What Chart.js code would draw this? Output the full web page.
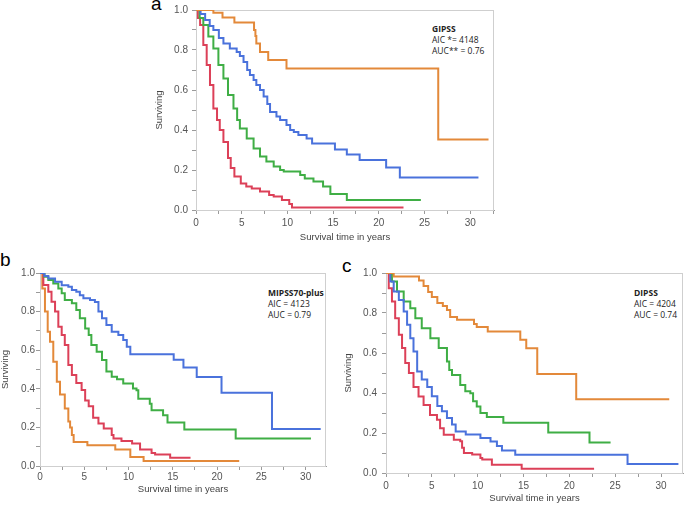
<!DOCTYPE html>
<html>
<head>
<meta charset="utf-8">
<script src="https://cdn.jsdelivr.net/npm/chart.js@4.4.1/dist/chart.umd.min.js"></script>
<style>
  body { margin: 0; background: #fff; }
  #page { position: relative; width: 685px; height: 506px; overflow: hidden; background: #fff; font-family: 'Open Sans', sans-serif; }
  .panel { position: absolute; }
  .tag { position: absolute; font-family: 'Liberation Sans', Arial, sans-serif; font-size: 19px; line-height: 1; color: #000; }
  .note { position: absolute; font-size: 8.5px; line-height: 11px; color: #222; white-space: nowrap; }
  .note b { font-weight: 700; }
</style>
</head>
<body>
<div id="page">
  <div class="tag" style="left:151px;top:-6px;">a</div>
  <div class="tag" style="left:0px;top:250px;">b</div>
  <div class="tag" style="left:342px;top:256px;">c</div>

  <div class="note" style="left:432px;top:23px;"><b>GIPSS</b><br>AIC *= 4148<br>AUC** = 0.76</div>
  <div class="note" style="left:268px;top:287px;"><b>MIPSS70-plus</b><br>AIC = 4123<br>AUC = 0.79</div>
  <div class="note" style="left:634px;top:287px;"><b>DIPSS</b><br>AIC = 4204<br>AUC = 0.74</div>

  <div class="panel" style="left:140px;top:0px;"><canvas id="chartA" width="358" height="248"></canvas></div>
  <div class="panel" style="left:0px;top:250px;"><canvas id="chartB" width="330" height="256"></canvas></div>
  <div class="panel" style="left:340px;top:250px;"><canvas id="chartC" width="345" height="256"></canvas></div>
</div>
<script>
// ---- panel a: GIPSS ----
const aOrangeT = [0, 1.9, 2.9, 4.2, 6.35, 6.5, 6.6, 7.0, 7.9, 9.9, 26.5, 32.0];
const aOrangeS = [1, 0.986, 0.963, 0.937, 0.90, 0.87, 0.833, 0.79, 0.75, 0.708, 0.353, 0.353];
const aBlueT = [0, 0.5, 1.0, 1.5, 1.9, 2.5, 3.0, 3.7, 4.45, 4.8, 5.2, 5.6, 5.9, 6.3, 6.6, 7.0, 7.4, 7.8, 8.1, 8.8, 9.2, 9.9, 10.3, 10.7, 11.2, 12.1, 12.7, 15.2, 16.5, 17.9, 20.8, 22.3, 30.9];
const aBlueS = [1, 0.98, 0.95, 0.92, 0.9, 0.86, 0.833, 0.808, 0.79, 0.77, 0.74, 0.70, 0.675, 0.65, 0.625, 0.6, 0.567, 0.53, 0.49, 0.467, 0.45, 0.425, 0.40, 0.39, 0.375, 0.358, 0.333, 0.303, 0.278, 0.25, 0.213, 0.162, 0.162];
const aGreenT = [0, 0.4, 0.8, 1.35, 1.9, 2.45, 3.0, 3.5, 4.1, 4.5, 4.8, 5.55, 6.3, 7.0, 7.7, 8.5, 9.2, 9.6, 11.4, 11.9, 12.85, 13.9, 14.7, 16.5, 24.6];
const aGreenS = [1, 0.96, 0.925, 0.867, 0.808, 0.725, 0.658, 0.575, 0.508, 0.45, 0.408, 0.358, 0.308, 0.267, 0.242, 0.217, 0.2, 0.192, 0.175, 0.158, 0.142, 0.117, 0.08, 0.05, 0.05];
const aRedT = [0, 0.2, 0.45, 0.8, 1.17, 1.53, 1.9, 2.3, 2.6, 3.0, 3.5, 3.8, 4.2, 4.9, 5.5, 6.1, 7.0, 8.0, 8.5, 9.4, 10.2, 10.5, 22.7];
const aRedS = [1, 0.96, 0.925, 0.825, 0.725, 0.625, 0.508, 0.45, 0.40, 0.34, 0.26, 0.21, 0.167, 0.133, 0.117, 0.108, 0.092, 0.075, 0.067, 0.05, 0.03, 0.013, 0.013];

// ---- panel b: MIPSS70-plus ----
const bBlueT = [0, 0.5, 0.94, 1.7, 2.45, 3.2, 3.6, 4.1, 4.5, 4.9, 5.65, 6.2, 6.6, 7.0, 7.5, 8.1, 8.85, 9.4, 9.8, 10.2, 15.1, 16.2, 17.7, 20.5, 26.2, 31.7];
const bBlueS = [1, 0.985, 0.972, 0.955, 0.937, 0.929, 0.912, 0.903, 0.885, 0.869, 0.86, 0.85, 0.8, 0.765, 0.73, 0.696, 0.679, 0.653, 0.618, 0.579, 0.551, 0.51, 0.461, 0.38, 0.192, 0.192];
const bGreenT = [0, 0.5, 0.94, 1.5, 2.07, 2.45, 2.8, 3.6, 4.1, 4.5, 5.1, 5.5, 5.8, 6.4, 7.0, 7.5, 8.1, 8.7, 9.4, 10.5, 10.9, 11.1, 12.4, 12.6, 13.9, 14.4, 16.3, 22.1, 30.6];
const bGreenS = [1, 0.98, 0.964, 0.946, 0.92, 0.895, 0.86, 0.843, 0.808, 0.765, 0.713, 0.679, 0.627, 0.592, 0.549, 0.49, 0.463, 0.45, 0.427, 0.401, 0.392, 0.349, 0.323, 0.289, 0.263, 0.225, 0.189, 0.142, 0.142];
const bRedT = [0, 0.38, 0.94, 1.3, 1.7, 2.07, 2.45, 2.8, 3.2, 3.6, 4.1, 4.7, 5.1, 5.5, 6.0, 6.6, 7.2, 8.1, 8.3, 9.2, 10.4, 11.3, 12.6, 13.0, 14.7, 17.0];
const bRedS = [1, 0.938, 0.903, 0.851, 0.8, 0.722, 0.679, 0.627, 0.523, 0.472, 0.43, 0.394, 0.34, 0.31, 0.25, 0.22, 0.194, 0.161, 0.142, 0.13, 0.117, 0.085, 0.067, 0.06, 0.043, 0.043];
const bOrangeT = [0, 0.26, 0.56, 0.87, 1.13, 1.5, 1.9, 2.26, 2.8, 3.2, 3.4, 3.6, 3.8, 5.35, 8.5, 10.2, 11.7, 22.5];
const bOrangeS = [1, 0.92, 0.8, 0.696, 0.644, 0.54, 0.437, 0.37, 0.298, 0.23, 0.2, 0.161, 0.124, 0.107, 0.085, 0.047, 0.026, 0.026];

// ---- panel c: DIPSS ----
const cOrangeT = [0, 0.84, 3.6, 4.1, 4.6, 5.0, 5.6, 6.2, 6.65, 7.0, 7.75, 9.6, 9.9, 11.1, 14.65, 15.3, 16.5, 20.75, 30.9];
const cOrangeS = [1, 0.982, 0.962, 0.935, 0.905, 0.88, 0.85, 0.835, 0.815, 0.78, 0.766, 0.745, 0.73, 0.707, 0.666, 0.624, 0.495, 0.369, 0.369];
const cBlueT = [0, 0.47, 0.84, 1.4, 1.93, 2.3, 2.65, 3.0, 3.4, 3.9, 4.5, 5.0, 5.6, 6.1, 6.65, 7.2, 7.6, 8.7, 10.3, 11.4, 12.1, 12.65, 14.1, 26.35, 31.9];
const cBlueS = [1, 0.957, 0.907, 0.865, 0.807, 0.741, 0.674, 0.608, 0.508, 0.467, 0.43, 0.384, 0.335, 0.309, 0.275, 0.243, 0.207, 0.192, 0.175, 0.158, 0.135, 0.113, 0.091, 0.045, 0.045];
const cGreenT = [0, 0.65, 1.2, 1.93, 2.65, 3.2, 3.9, 4.84, 5.75, 6.65, 6.9, 7.2, 8.1, 8.65, 9.2, 9.5, 9.9, 10.3, 11.0, 12.8, 17.7, 22.2, 24.5];
const cGreenS = [1, 0.957, 0.907, 0.857, 0.824, 0.774, 0.724, 0.674, 0.625, 0.558, 0.515, 0.49, 0.44, 0.409, 0.399, 0.359, 0.332, 0.3, 0.28, 0.251, 0.202, 0.153, 0.153];
const cRedT = [0, 0.3, 0.65, 1.0, 1.4, 1.75, 2.1, 2.5, 3.0, 3.55, 4.1, 4.8, 5.56, 5.9, 6.3, 7.4, 8.1, 8.3, 8.5, 9.4, 10.3, 10.5, 11.55, 14.8, 22.7];
const cRedS = [1, 0.924, 0.857, 0.774, 0.691, 0.625, 0.55, 0.5, 0.43, 0.382, 0.34, 0.29, 0.266, 0.224, 0.191, 0.166, 0.159, 0.126, 0.1, 0.093, 0.075, 0.068, 0.041, 0.021, 0.021];

const ORANGE = '#E3893A', BLUE = '#4A72DC', GREEN = '#3FAE45', RED = '#DC4058';

const toPoints = (t, s) => t.map((v, i) => ({ x: v, y: s[i] }));

// light grey frame round the plot area
const frame = {
  id: 'frame',
  beforeDatasetsDraw(chart) {
    const a = chart.chartArea, ctx = chart.ctx;
    ctx.save();
    ctx.strokeStyle = '#cfcfcf';
    ctx.lineWidth = 1;
    ctx.strokeRect(a.left + 0.5, a.top + 0.5, a.right - a.left - 1, a.bottom - a.top);
    ctx.restore();
  }
};

function makePanel(id, series, cfg) {
  new Chart(document.getElementById(id), {
    type: 'line',
    data: {
      datasets: series.map(s => ({
        data: toPoints(s[0], s[1]),
        borderColor: s[2],
        borderWidth: 2,
        stepped: 'before',   // horizontal first, then the drop (Kaplan-Meier)
        pointRadius: 0,
        fill: false
      }))
    },
    options: {
      responsive: false,
      animation: false,
      devicePixelRatio: 1,
      layout: { padding: { top: cfg.padTop, right: cfg.padRight, left: 0, bottom: 0 } },
      plugins: { legend: { display: false }, tooltip: { enabled: false } },
      scales: {
        x: {
          type: 'linear',
          min: 0,
          max: cfg.xMax,
          afterFit: s => { s.height = cfg.xHeight; },
          border: { color: '#9a9a9a' },
          grid: { drawOnChartArea: false, tickLength: 4, tickColor: '#9a9a9a' },
          ticks: {
            stepSize: 2.5,
            includeBounds: false,
            maxRotation: 0,
            autoSkip: false,
            padding: cfg.xTickPad,
            color: '#555',
            font: { size: 10 },
            callback: v => (Math.abs(v % 5) < 1e-6 ? String(v) : '')
          },
          title: {
            display: true,
            text: 'Survival time in years',
            color: '#444',
            font: { size: 9.5 },
            padding: { top: 0, bottom: cfg.xTitlePad }
          }
        },
        y: {
          min: 0,
          max: 1,
          afterFit: s => { s.width = cfg.yWidth; },
          border: { color: '#9a9a9a' },
          grid: { drawOnChartArea: false, tickLength: 4, tickColor: '#9a9a9a' },
          ticks: {
            stepSize: 0.1,
            autoSkip: false,
            padding: cfg.yTickPad,
            color: '#555',
            font: { size: 10 },
            callback: v => (Math.round(v * 10) % 2 === 0 ? v.toFixed(1) : '')
          },
          title: {
            display: true,
            text: 'Surviving',
            color: '#444',
            font: { size: 9.5 },
            padding: { top: cfg.yTitlePad, bottom: 0 }
          }
        }
      }
    },
    plugins: [frame]
  });
}

makePanel('chartA', [
  [aOrangeT, aOrangeS, ORANGE],
  [aBlueT, aBlueS, BLUE],
  [aGreenT, aGreenS, GREEN],
  [aRedT, aRedS, RED]
], { xMax: 32.6, padTop: 10, padRight: 4, yWidth: 56, xHeight: 38, xTickPad: 3, xTitlePad: 5, yTickPad: 4, yTitlePad: 14 });

makePanel('chartB', [
  [bBlueT, bBlueS, BLUE],
  [bGreenT, bGreenS, GREEN],
  [bRedT, bRedS, RED],
  [bOrangeT, bOrangeS, ORANGE]
], { xMax: 32.3, padTop: 23, padRight: 4, yWidth: 40, xHeight: 40, xTickPad: 1, xTitlePad: 11, yTickPad: 1, yTitlePad: 0 });

makePanel('chartC', [
  [cOrangeT, cOrangeS, ORANGE],
  [cBlueT, cBlueS, BLUE],
  [cGreenT, cGreenS, GREEN],
  [cRedT, cRedS, RED]
], { xMax: 32.4, padTop: 23, padRight: 2, yWidth: 46, xHeight: 33, xTickPad: 3, xTitlePad: 2, yTickPad: 5, yTitlePad: 3 });
</script>
</body>
</html>
